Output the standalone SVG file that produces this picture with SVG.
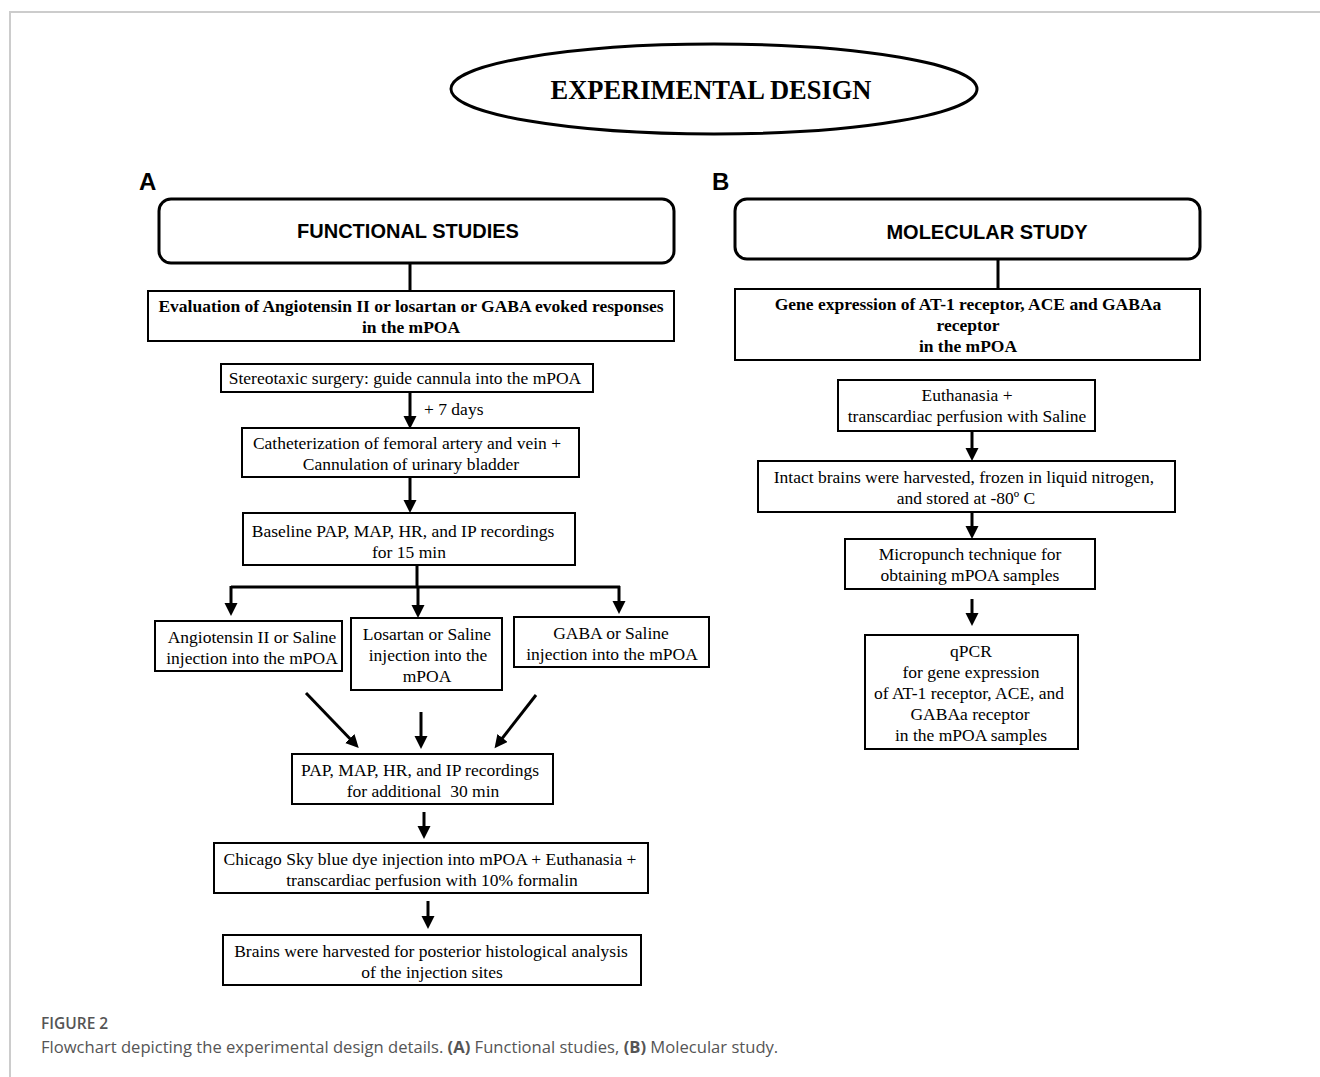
<svg xmlns="http://www.w3.org/2000/svg" width="1320" height="1077" viewBox="0 0 1320 1077">
<defs>
<style>
.box{fill:#fff;stroke:#000;stroke-width:2}
.rbox{fill:#fff;stroke:#000;stroke-width:3}
.t{font-family:"Liberation Serif","Times New Roman",serif;font-size:17.5px;fill:#000;text-anchor:middle}
.tb{font-family:"Liberation Serif","Times New Roman",serif;font-size:17.5px;font-weight:bold;fill:#000;text-anchor:middle}
.h{font-family:"Liberation Sans",Arial,sans-serif;font-size:20px;font-weight:bold;fill:#000;text-anchor:middle}
.lbl{font-family:"Liberation Sans",Arial,sans-serif;font-size:24px;font-weight:bold;fill:#000}
.cap{font-family:"Open Sans","Noto Sans",sans-serif;font-size:16.6px;fill:#555}
.c{stroke:#000;stroke-width:3;fill:none}
.ca{stroke:#000;stroke-width:3;fill:none;marker-end:url(#ah)}
</style>
<marker id="ah" markerUnits="userSpaceOnUse" markerWidth="14" markerHeight="14" refX="9" refY="6.5" orient="auto">
<path d="M0,0 L13,6.5 L0,13 z" fill="#000"/>
</marker>
</defs>
<rect width="1320" height="1077" fill="#fff"/>
<path d="M10,1077 V12 H1320" fill="none" stroke="#ccc" stroke-width="2"/>

<g id="title">
<ellipse cx="714" cy="89" rx="263" ry="45" fill="#fff" stroke="#000" stroke-width="3"/>
<text x="711" y="99" class="tb" style="font-size:27px" textLength="321" lengthAdjust="spacingAndGlyphs">EXPERIMENTAL DESIGN</text>
</g>

<text x="139" y="190" class="lbl">A</text>
<text x="712" y="190" class="lbl">B</text>

<g id="connectors">
<line x1="410" y1="263" x2="410" y2="291" class="c"/>
<line x1="410" y1="392" x2="410" y2="425" class="ca"/>
<line x1="410" y1="477" x2="410" y2="509" class="ca"/>
<path d="M417,565 V587" class="c"/>
<path d="M231,587 H620" class="c"/>
<line x1="231" y1="586" x2="231" y2="612" class="ca"/>
<line x1="418" y1="586" x2="418" y2="614" class="ca"/>
<line x1="619" y1="586" x2="619" y2="610" class="ca"/>
<line x1="306" y1="693" x2="356" y2="745" class="ca"/>
<line x1="421" y1="712" x2="421" y2="745" class="ca"/>
<line x1="536" y1="695" x2="497" y2="745" class="ca"/>
<line x1="424" y1="812" x2="424" y2="835" class="ca"/>
<line x1="428" y1="901" x2="428" y2="925" class="ca"/>
<line x1="998" y1="259" x2="998" y2="289" class="c"/>
<line x1="972" y1="431" x2="972" y2="457" class="ca"/>
<line x1="972" y1="512" x2="972" y2="535" class="ca"/>
<line x1="972" y1="599" x2="972" y2="622" class="ca"/>
</g>
<text x="424" y="415" class="t" style="text-anchor:start">+ 7 days</text>

<g id="functional">
<rect x="159" y="199" width="515" height="64" rx="12" class="rbox"/>
<text x="408" y="238" class="h">FUNCTIONAL STUDIES</text>
</g>
<g id="evaluation">
<rect x="148" y="291" width="526" height="50" class="box"/>
<text x="411" y="312" class="tb">Evaluation of Angiotensin II or losartan or GABA evoked responses</text>
<text x="411" y="333" class="tb">in the mPOA</text>
</g>
<g id="stereotaxic">
<rect x="221" y="364" width="372" height="28" class="box"/>
<text x="405" y="384" class="t">Stereotaxic surgery: guide cannula into the mPOA</text>
</g>
<g id="catheterization">
<rect x="242" y="428" width="337" height="49" class="box"/>
<text x="407" y="449" class="t">Catheterization of femoral artery and vein +</text>
<text x="411" y="470" class="t">Cannulation of urinary bladder</text>
</g>
<g id="baseline">
<rect x="243" y="513" width="332" height="52" class="box"/>
<text x="403" y="537" class="t">Baseline PAP, MAP, HR, and IP recordings</text>
<text x="409" y="558" class="t">for 15 min</text>
</g>
<g id="angiotensin">
<rect x="155" y="621" width="187" height="50" class="box"/>
<text x="252" y="643" class="t">Angiotensin II or Saline</text>
<text x="252" y="664" class="t">injection into the mPOA</text>
</g>
<g id="losartan">
<rect x="351" y="618" width="151" height="72" class="box"/>
<text x="427" y="640" class="t">Losartan or Saline</text>
<text x="428" y="661" class="t">injection into the</text>
<text x="427" y="682" class="t">mPOA</text>
</g>
<g id="gaba">
<rect x="514" y="617" width="195" height="50" class="box"/>
<text x="611" y="639" class="t">GABA or Saline</text>
<text x="612" y="660" class="t">injection into the mPOA</text>
</g>
<g id="recordings">
<rect x="292" y="754" width="261" height="50" class="box"/>
<text x="420" y="776" class="t">PAP, MAP, HR, and IP recordings</text>
<text x="423" y="797" class="t" xml:space="preserve">for additional  30 min</text>
</g>
<g id="chicago">
<rect x="214" y="843" width="434" height="50" class="box"/>
<text x="430" y="865" class="t">Chicago Sky blue dye injection into mPOA + Euthanasia +</text>
<text x="432" y="886" class="t">transcardiac perfusion with 10% formalin</text>
</g>
<g id="brains">
<rect x="223" y="935" width="418" height="50" class="box"/>
<text x="431" y="957" class="t">Brains were harvested for posterior histological analysis</text>
<text x="432" y="978" class="t">of the injection sites</text>
</g>

<g id="molecular">
<rect x="735" y="199" width="465" height="60" rx="12" class="rbox"/>
<text x="987" y="239" class="h">MOLECULAR STUDY</text>
</g>
<g id="gene">
<rect x="735" y="289" width="465" height="71" class="box"/>
<text x="968" y="310" class="tb">Gene expression of AT-1 receptor, ACE and GABAa</text>
<text x="968" y="331" class="tb">receptor</text>
<text x="968" y="352" class="tb">in the mPOA</text>
</g>
<g id="euthanasia">
<rect x="838" y="380" width="257" height="51" class="box"/>
<text x="967" y="401" class="t">Euthanasia +</text>
<text x="967" y="422" class="t">transcardiac perfusion with Saline</text>
</g>
<g id="intact">
<rect x="758" y="461" width="417" height="51" class="box"/>
<text x="964" y="483" class="t">Intact brains were harvested, frozen in liquid nitrogen,</text>
<text x="966" y="504" class="t">and stored at -80º C</text>
</g>
<g id="micropunch">
<rect x="845" y="539" width="250" height="50" class="box"/>
<text x="970" y="560" class="t">Micropunch technique for</text>
<text x="970" y="581" class="t">obtaining mPOA samples</text>
</g>
<g id="qpcr">
<rect x="865" y="635" width="213" height="114" class="box"/>
<text x="971" y="657" class="t">qPCR</text>
<text x="971" y="678" class="t">for gene expression</text>
<text x="969" y="699" class="t">of AT-1 receptor, ACE, and</text>
<text x="970" y="720" class="t">GABAa receptor</text>
<text x="971" y="741" class="t">in the mPOA samples</text>
</g>

<text x="41" y="1029" class="cap" style="font-weight:600;font-size:15.5px">FIGURE 2</text>
<text x="41" y="1053" class="cap">Flowchart depicting the experimental design details. <tspan font-weight="bold">(A)</tspan> Functional studies, <tspan font-weight="bold">(B)</tspan> Molecular study.</text>
</svg>
